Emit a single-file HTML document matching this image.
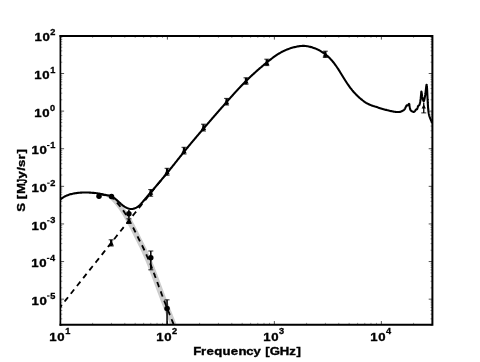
<!DOCTYPE html>
<html><head><meta charset="utf-8"><title>SED</title>
<style>html,body{margin:0;padding:0;background:#fff;}svg{display:block;filter:grayscale(1);}text{font-family:"Liberation Sans",sans-serif;font-weight:bold;fill:#000;stroke:#000;stroke-width:0.4px;}</style></head><body>
<svg width="480" height="362" viewBox="0 0 480 362">
<rect width="480" height="362" fill="#fff"/>
<defs><clipPath id="ax"><rect x="60.4" y="35.9" width="372" height="288.85"/></clipPath></defs>
<g clip-path="url(#ax)" fill="none" stroke-linejoin="round">
<path d="M88.9 193 L89.31 193.03 L89.73 193.06 L90.14 193.09 L90.56 193.13 L90.97 193.17 L91.38 193.22 L91.79 193.27 L92.2 193.32 L92.61 193.37 L93.02 193.43 L93.43 193.49 L93.84 193.55 L94.25 193.61 L94.65 193.68 L95.06 193.74 L95.47 193.81 L95.87 193.88 L96.28 193.96 L96.68 194.05 L97.09 194.13 L97.49 194.23 L97.89 194.33 L98.29 194.43 L98.69 194.54 L99.09 194.64 L99.49 194.75 L99.89 194.87 L100.29 194.98 L100.69 195.1 L101.09 195.21 L101.48 195.32 L101.88 195.44 L102.29 195.55 L102.69 195.67 L103.1 195.78 L103.51 195.9 L103.92 196.02 L104.32 196.14 L104.73 196.26 L105.13 196.39 L105.52 196.53 L105.91 196.67 L106.29 196.81 L106.67 196.97 L107.03 197.13 L107.39 197.29 L107.73 197.47 L108.07 197.66 L108.4 197.86 L108.73 198.08 L109.06 198.31 L109.38 198.56 L109.7 198.81 L110.01 199.08 L110.32 199.35 L110.63 199.64 L110.93 199.93 L111.23 200.23 L111.52 200.53 L111.82 200.84 L112.11 201.16 L112.4 201.47 L112.68 201.8 L112.97 202.12 L113.25 202.44 L113.53 202.77 L113.8 203.09 L114.08 203.41 L114.35 203.74 L114.63 204.05 L114.9 204.37 L115.17 204.68 L115.43 204.99 L115.7 205.3 L115.96 205.62 L116.23 205.93 L116.48 206.25 L116.74 206.58 L117 206.9 L117.25 207.23 L117.5 207.56 L117.75 207.89 L118 208.22 L118.25 208.56 L118.49 208.9 L118.73 209.23 L118.97 209.57 L119.21 209.91 L119.45 210.25 L119.69 210.59 L119.92 210.94 L120.15 211.28 L120.39 211.62 L120.62 211.97 L120.85 212.31 L121.07 212.66 L121.3 213 L121.53 213.35 L121.75 213.69 L121.97 214.04 L122.19 214.39 L122.41 214.74 L122.62 215.1 L122.84 215.45 L123.05 215.8 L123.26 216.16 L123.47 216.52 L123.68 216.88 L123.89 217.23 L124.09 217.59 L124.3 217.95 L124.51 218.31 L124.71 218.67 L124.91 219.03 L125.12 219.4 L125.32 219.76 L125.52 220.12 L125.72 220.48 L125.92 220.84 L126.12 221.2 L126.32 221.56 L126.52 221.93 L126.72 222.29 L126.92 222.65 L127.11 223.02 L127.31 223.38 L127.5 223.74 L127.7 224.11 L127.89 224.48 L128.08 224.84 L128.28 225.21 L128.47 225.57 L128.66 225.94 L128.85 226.31 L129.04 226.68 L129.23 227.04 L129.42 227.41 L129.61 227.78 L129.8 228.15 L129.99 228.52 L130.18 228.88 L130.36 229.25 L130.55 229.62 L130.74 229.99 L130.93 230.36 L131.11 230.73 L131.3 231.1 L131.49 231.46 L131.67 231.83 L131.86 232.2 L132.04 232.58 L132.22 232.95 L132.41 233.32 L132.59 233.69 L132.77 234.06 L132.95 234.43 L133.14 234.8 L133.32 235.17 L133.5 235.55 L133.68 235.92 L133.86 236.29 L134.04 236.66 L134.23 237.03 L134.41 237.4 L134.59 237.77 L134.77 238.14 L134.96 238.52 L135.14 238.89 L135.33 239.26 L135.51 239.62 L135.7 239.99 L135.89 240.36 L136.08 240.73 L136.26 241.1 L136.45 241.47 L136.64 241.84 L136.83 242.2 L137.02 242.57 L137.21 242.94 L137.4 243.31 L137.59 243.67 L137.78 244.04 L137.97 244.41 L138.15 244.78 L138.34 245.15 L138.53 245.52 L138.71 245.89 L138.9 246.26 L139.08 246.63 L139.26 247 L139.44 247.37 L139.62 247.74 L139.8 248.12 L139.97 248.49 L140.15 248.87 L140.33 249.24 L140.5 249.61 L140.68 249.99 L140.85 250.37 L141.02 250.74 L141.19 251.12 L141.37 251.49 L141.54 251.87 L141.71 252.25 L141.88 252.62 L142.05 253 L142.22 253.38 L142.38 253.76 L142.55 254.14 L142.72 254.51 L142.89 254.89 L143.05 255.27 L143.22 255.65 L143.39 256.03 L143.55 256.41 L143.72 256.78 L143.88 257.16 L144.05 257.54 L144.21 257.92 L144.38 258.3 L144.54 258.68 L144.71 259.06 L144.87 259.44 L145.03 259.82 L145.19 260.2 L145.35 260.58 L145.52 260.97 L145.68 261.35 L145.84 261.73 L146 262.11 L146.15 262.49 L146.31 262.87 L146.47 263.26 L146.63 263.64 L146.78 264.02 L146.94 264.4 L147.09 264.79 L147.25 265.17 L147.4 265.55 L147.56 265.94 L147.71 266.32 L147.86 266.71 L148.01 267.09 L148.16 267.48 L148.31 267.86 L148.46 268.25 L148.61 268.63 L148.76 269.02 L148.91 269.41 L149.06 269.79 L149.2 270.18 L149.35 270.57 L149.5 270.95 L149.64 271.34 L149.79 271.73 L149.94 272.11 L150.08 272.5 L150.23 272.89 L150.37 273.28 L150.52 273.66 L150.67 274.05 L150.81 274.44 L150.96 274.82 L151.1 275.21 L151.25 275.6 L151.39 275.98 L151.54 276.37 L151.69 276.76 L151.83 277.15 L151.98 277.53 L152.12 277.92 L152.26 278.31 L152.41 278.7 L152.55 279.08 L152.7 279.47 L152.84 279.86 L152.98 280.25 L153.13 280.64 L153.27 281.02 L153.41 281.41 L153.56 281.8 L153.7 282.19 L153.84 282.58 L153.98 282.96 L154.13 283.35 L154.27 283.74 L154.41 284.13 L154.56 284.52 L154.7 284.91 L154.84 285.29 L154.98 285.68 L155.13 286.07 L155.27 286.46 L155.41 286.85 L155.56 287.23 L155.7 287.62 L155.84 288.01 L155.99 288.4 L156.13 288.78 L156.28 289.17 L156.42 289.56 L156.57 289.95 L156.71 290.33 L156.86 290.72 L157 291.11 L157.15 291.5 L157.29 291.88 L157.44 292.27 L157.58 292.66 L157.73 293.05 L157.87 293.43 L158.01 293.82 L158.16 294.21 L158.3 294.6 L158.45 294.98 L158.6 295.37 L158.74 295.76 L158.89 296.15 L159.03 296.53 L159.18 296.92 L159.32 297.31 L159.47 297.69 L159.62 298.08 L159.76 298.47 L159.91 298.85 L160.06 299.24 L160.2 299.63 L160.35 300.01 L160.5 300.4 L160.65 300.79 L160.79 301.17 L160.94 301.56 L161.09 301.94 L161.24 302.33 L161.39 302.72 L161.54 303.1 L161.69 303.49 L161.84 303.87 L161.99 304.26 L162.14 304.64 L162.29 305.03 L162.45 305.41 L162.6 305.79 L162.75 306.18 L162.9 306.56 L163.06 306.95 L163.21 307.33 L163.36 307.72 L163.52 308.1 L163.67 308.48 L163.83 308.87 L163.98 309.25 L164.14 309.63 L164.29 310.02 L164.45 310.4 L164.6 310.79 L164.75 311.17 L164.91 311.55 L165.06 311.94 L165.22 312.32 L165.37 312.7 L165.53 313.09 L165.68 313.47 L165.84 313.85 L165.99 314.24 L166.15 314.62 L166.3 315 L166.46 315.39 L166.61 315.77 L166.76 316.16 L166.92 316.54 L167.07 316.92 L167.22 317.31 L167.38 317.69 L167.53 318.08 L167.68 318.46 L167.84 318.85 L167.99 319.23 L168.14 319.61 L168.29 320 L168.45 320.38 L168.6 320.77 L168.75 321.15 L168.91 321.54 L169.06 321.92 L169.21 322.3 L169.37 322.69 L169.52 323.07 L169.67 323.46 L169.82 323.84 L169.98 324.23 L170.13 324.61 L170.28 324.99 L170.44 325.38 L170.59 325.76 L170.74 326.15 L170.89 326.53 L171.05 326.92 L171.2 327.3 L177.7 327.3 L177.55 326.92 L177.39 326.53 L177.24 326.15 L177.09 325.76 L176.94 325.38 L176.78 324.99 L176.63 324.61 L176.48 324.23 L176.32 323.84 L176.17 323.46 L176.02 323.07 L175.87 322.69 L175.71 322.3 L175.56 321.92 L175.41 321.54 L175.25 321.15 L175.1 320.77 L174.95 320.38 L174.79 320 L174.64 319.61 L174.49 319.23 L174.34 318.85 L174.18 318.46 L174.03 318.08 L173.88 317.69 L173.72 317.31 L173.57 316.92 L173.42 316.54 L173.26 316.16 L173.11 315.77 L172.96 315.39 L172.8 315 L172.65 314.62 L172.49 314.24 L172.34 313.85 L172.18 313.47 L172.03 313.09 L171.87 312.7 L171.72 312.32 L171.56 311.94 L171.41 311.55 L171.25 311.17 L171.1 310.79 L170.95 310.4 L170.79 310.02 L170.64 309.63 L170.48 309.25 L170.33 308.87 L170.17 308.48 L170.02 308.1 L169.86 307.72 L169.71 307.33 L169.56 306.95 L169.4 306.56 L169.25 306.18 L169.1 305.79 L168.95 305.41 L168.79 305.03 L168.64 304.64 L168.49 304.26 L168.34 303.87 L168.19 303.49 L168.04 303.1 L167.89 302.72 L167.74 302.33 L167.59 301.94 L167.44 301.56 L167.29 301.17 L167.15 300.79 L167 300.4 L166.85 300.01 L166.7 299.63 L166.56 299.24 L166.41 298.85 L166.26 298.47 L166.12 298.08 L165.97 297.69 L165.82 297.31 L165.68 296.92 L165.53 296.53 L165.39 296.15 L165.24 295.76 L165.1 295.37 L164.95 294.98 L164.8 294.6 L164.66 294.21 L164.51 293.82 L164.37 293.43 L164.23 293.05 L164.08 292.66 L163.94 292.27 L163.79 291.88 L163.65 291.5 L163.5 291.11 L163.36 290.72 L163.21 290.33 L163.07 289.95 L162.92 289.56 L162.78 289.17 L162.63 288.78 L162.49 288.4 L162.34 288.01 L162.2 287.62 L162.06 287.23 L161.91 286.85 L161.77 286.46 L161.63 286.07 L161.48 285.68 L161.34 285.29 L161.2 284.91 L161.06 284.52 L160.91 284.13 L160.77 283.74 L160.63 283.35 L160.48 282.96 L160.34 282.58 L160.2 282.19 L160.06 281.8 L159.91 281.41 L159.77 281.02 L159.63 280.64 L159.48 280.25 L159.34 279.86 L159.2 279.47 L159.05 279.08 L158.91 278.7 L158.76 278.31 L158.62 277.92 L158.48 277.53 L158.33 277.15 L158.19 276.76 L158.04 276.37 L157.89 275.98 L157.75 275.6 L157.6 275.21 L157.46 274.82 L157.31 274.44 L157.17 274.05 L157.02 273.66 L156.87 273.28 L156.73 272.89 L156.58 272.5 L156.44 272.11 L156.29 271.73 L156.14 271.34 L156 270.95 L155.85 270.57 L155.7 270.18 L155.56 269.79 L155.41 269.41 L155.26 269.02 L155.11 268.63 L154.96 268.25 L154.81 267.86 L154.66 267.48 L154.51 267.09 L154.36 266.71 L154.21 266.32 L154.06 265.94 L153.9 265.55 L153.75 265.17 L153.59 264.79 L153.44 264.4 L153.28 264.02 L153.13 263.64 L152.97 263.26 L152.81 262.87 L152.65 262.49 L152.5 262.11 L152.34 261.73 L152.18 261.35 L152.02 260.97 L151.85 260.58 L151.69 260.2 L151.53 259.82 L151.37 259.44 L151.21 259.06 L151.04 258.68 L150.88 258.3 L150.71 257.92 L150.55 257.54 L150.38 257.16 L150.22 256.78 L150.05 256.41 L149.89 256.03 L149.72 255.65 L149.55 255.27 L149.39 254.89 L149.22 254.51 L149.05 254.14 L148.88 253.76 L148.72 253.38 L148.55 253 L148.38 252.62 L148.21 252.25 L148.04 251.87 L147.87 251.49 L147.69 251.12 L147.52 250.74 L147.35 250.37 L147.18 249.99 L147 249.61 L146.83 249.24 L146.65 248.87 L146.47 248.49 L146.3 248.12 L146.12 247.74 L145.94 247.37 L145.76 247 L145.58 246.63 L145.4 246.26 L145.21 245.89 L145.03 245.52 L144.84 245.15 L144.65 244.78 L144.47 244.41 L144.28 244.04 L144.09 243.67 L143.9 243.31 L143.71 242.94 L143.52 242.57 L143.33 242.2 L143.14 241.84 L142.95 241.47 L142.76 241.1 L142.58 240.73 L142.39 240.36 L142.2 239.99 L142.01 239.62 L141.83 239.26 L141.64 238.89 L141.46 238.52 L141.27 238.14 L141.09 237.77 L140.91 237.4 L140.73 237.03 L140.54 236.66 L140.36 236.29 L140.18 235.92 L140 235.55 L139.82 235.17 L139.64 234.8 L139.45 234.43 L139.27 234.06 L139.09 233.69 L138.91 233.32 L138.72 232.95 L138.54 232.58 L138.36 232.2 L138.17 231.83 L137.99 231.46 L137.8 231.1 L137.61 230.73 L137.43 230.36 L137.24 229.99 L137.05 229.62 L136.86 229.25 L136.68 228.88 L136.49 228.52 L136.3 228.15 L136.11 227.78 L135.92 227.41 L135.73 227.04 L135.54 226.68 L135.35 226.31 L135.16 225.94 L134.97 225.57 L134.78 225.21 L134.58 224.84 L134.39 224.48 L134.2 224.11 L134 223.74 L133.81 223.38 L133.61 223.02 L133.42 222.65 L133.22 222.29 L133.02 221.93 L132.82 221.56 L132.62 221.2 L132.42 220.84 L132.22 220.48 L132.02 220.12 L131.82 219.76 L131.62 219.4 L131.41 219.03 L131.21 218.67 L131.01 218.31 L130.8 217.95 L130.59 217.59 L130.39 217.23 L130.18 216.88 L129.97 216.52 L129.76 216.16 L129.55 215.8 L129.34 215.45 L129.12 215.1 L128.91 214.74 L128.69 214.39 L128.47 214.04 L128.25 213.69 L128.03 213.35 L127.8 213 L127.57 212.66 L127.35 212.31 L127.12 211.97 L126.89 211.62 L126.65 211.28 L126.42 210.94 L126.19 210.59 L125.95 210.25 L125.71 209.91 L125.47 209.57 L125.23 209.23 L124.99 208.9 L124.75 208.56 L124.5 208.22 L124.25 207.89 L124 207.56 L123.75 207.23 L123.5 206.9 L123.24 206.58 L122.98 206.25 L122.73 205.93 L122.46 205.62 L122.2 205.3 L121.93 204.99 L121.67 204.68 L121.4 204.37 L121.13 204.05 L120.85 203.74 L120.58 203.41 L120.3 203.09 L120.03 202.77 L119.75 202.44 L119.47 202.12 L119.18 201.8 L118.9 201.47 L118.61 201.16 L118.32 200.84 L118.02 200.53 L117.73 200.23 L117.43 199.93 L117.13 199.64 L116.82 199.35 L116.51 199.08 L116.2 198.81 L115.88 198.56 L115.56 198.31 L115.23 198.08 L114.9 197.86 L114.57 197.66 L114.23 197.47 L113.89 197.29 L113.53 197.13 L113.17 196.97 L112.79 196.81 L112.41 196.67 L112.02 196.53 L111.63 196.39 L111.23 196.26 L110.82 196.14 L110.42 196.02 L110.01 195.9 L109.6 195.78 L109.19 195.67 L108.79 195.55 L108.38 195.44 L107.98 195.32 L107.59 195.21 L107.19 195.1 L106.79 194.98 L106.39 194.87 L105.99 194.75 L105.59 194.64 L105.19 194.54 L104.79 194.43 L104.39 194.33 L103.99 194.23 L103.59 194.13 L103.18 194.05 L102.78 193.96 L102.37 193.88 L101.97 193.81 L101.56 193.74 L101.15 193.68 L100.75 193.61 L100.34 193.55 L99.93 193.49 L99.52 193.43 L99.11 193.37 L98.7 193.32 L98.29 193.27 L97.88 193.22 L97.47 193.17 L97.06 193.13 L96.64 193.09 L96.23 193.06 L95.81 193.03 L95.4 193Z" fill="#cdcdcd" stroke="none"/>
<path d="M60 307.3 L61.53 305.38 L63.05 303.46 L64.58 301.54 L66.1 299.62 L67.63 297.71 L69.15 295.79 L70.68 293.87 L72.2 291.95 L73.73 290.03 L75.25 288.11 L76.78 286.19 L78.31 284.27 L79.83 282.35 L81.36 280.43 L82.88 278.52 L84.41 276.6 L85.93 274.68 L87.46 272.76 L88.98 270.84 L90.51 268.92 L92.03 267 L93.56 265.08 L95.08 263.16 L96.61 261.24 L98.14 259.33 L99.66 257.41 L101.19 255.49 L102.71 253.57 L104.24 251.65 L105.76 249.73 L107.29 247.81 L108.81 245.89 L110.34 243.97 L111.86 242.05 L113.39 240.14 L114.92 238.22 L116.44 236.3 L117.97 234.38 L119.49 232.46 L121.02 230.54 L122.54 228.62 L124.07 226.7 L125.59 224.78 L127.12 222.86 L128.64 220.95 L130.17 219.03 L131.69 217.11 L133.22 215.19 L134.75 213.27 L136.27 211.35 L137.8 209.43 L139.32 207.51 L140.85 205.59 L142.37 203.67 L143.9 201.76 L145.42 199.84 L146.95 197.92 L148.47 196 L150 194.08 L154 188.9 L158.75 183.1 L163 177.9 L167.6 172.3" stroke="#000" stroke-width="1.85" stroke-dasharray="5.5 4.45" stroke-dashoffset="2.6"/>
<path d="M92.5 193 L92.91 193.03 L93.33 193.06 L93.74 193.09 L94.16 193.13 L94.57 193.17 L94.98 193.22 L95.39 193.27 L95.8 193.32 L96.21 193.37 L96.62 193.43 L97.03 193.49 L97.44 193.55 L97.85 193.61 L98.25 193.68 L98.66 193.74 L99.07 193.81 L99.47 193.88 L99.88 193.96 L100.28 194.05 L100.69 194.13 L101.09 194.23 L101.49 194.33 L101.89 194.43 L102.29 194.54 L102.69 194.64 L103.09 194.75 L103.49 194.87 L103.89 194.98 L104.29 195.1 L104.69 195.21 L105.08 195.32 L105.48 195.44 L105.89 195.55 L106.29 195.67 L106.7 195.78 L107.11 195.9 L107.52 196.02 L107.92 196.14 L108.33 196.26 L108.73 196.39 L109.12 196.53 L109.51 196.67 L109.89 196.81 L110.27 196.97 L110.63 197.13 L110.99 197.29 L111.33 197.47 L111.67 197.66 L112 197.86 L112.33 198.08 L112.66 198.31 L112.98 198.56 L113.3 198.81 L113.61 199.08 L113.92 199.35 L114.23 199.64 L114.53 199.93 L114.83 200.23 L115.12 200.53 L115.42 200.84 L115.71 201.16 L116 201.47 L116.28 201.8 L116.57 202.12 L116.85 202.44 L117.13 202.77 L117.4 203.09 L117.68 203.41 L117.95 203.74 L118.23 204.05 L118.5 204.37 L118.77 204.68 L119.03 204.99 L119.3 205.3 L119.56 205.62 L119.83 205.93 L120.08 206.25 L120.34 206.58 L120.6 206.9 L120.85 207.23 L121.1 207.56 L121.35 207.89 L121.6 208.22 L121.85 208.56 L122.09 208.9 L122.33 209.23 L122.57 209.57 L122.81 209.91 L123.05 210.25 L123.29 210.59 L123.52 210.94 L123.75 211.28 L123.99 211.62 L124.22 211.97 L124.45 212.31 L124.67 212.66 L124.9 213 L125.13 213.35 L125.35 213.69 L125.57 214.04 L125.79 214.39 L126.01 214.74 L126.22 215.1 L126.44 215.45 L126.65 215.8 L126.86 216.16 L127.07 216.52 L127.28 216.88 L127.49 217.23 L127.69 217.59 L127.9 217.95 L128.11 218.31 L128.31 218.67 L128.51 219.03 L128.72 219.4 L128.92 219.76 L129.12 220.12 L129.32 220.48 L129.52 220.84 L129.72 221.2 L129.92 221.56 L130.12 221.93 L130.32 222.29 L130.52 222.65 L130.71 223.02 L130.91 223.38 L131.1 223.74 L131.3 224.11 L131.49 224.48 L131.68 224.84 L131.88 225.21 L132.07 225.57 L132.26 225.94 L132.45 226.31 L132.64 226.68 L132.83 227.04 L133.02 227.41 L133.21 227.78 L133.4 228.15 L133.59 228.52 L133.78 228.88 L133.96 229.25 L134.15 229.62 L134.34 229.99 L134.53 230.36 L134.71 230.73 L134.9 231.1 L135.09 231.46 L135.27 231.83 L135.46 232.2 L135.64 232.58 L135.82 232.95 L136.01 233.32 L136.19 233.69 L136.37 234.06 L136.55 234.43 L136.74 234.8 L136.92 235.17 L137.1 235.55 L137.28 235.92 L137.46 236.29 L137.64 236.66 L137.83 237.03 L138.01 237.4 L138.19 237.77 L138.37 238.14 L138.56 238.52 L138.74 238.89 L138.93 239.26 L139.11 239.62 L139.3 239.99 L139.49 240.36 L139.68 240.73 L139.86 241.1 L140.05 241.47 L140.24 241.84 L140.43 242.2 L140.62 242.57 L140.81 242.94 L141 243.31 L141.19 243.67 L141.38 244.04 L141.57 244.41 L141.75 244.78 L141.94 245.15 L142.13 245.52 L142.31 245.89 L142.5 246.26 L142.68 246.63 L142.86 247 L143.04 247.37 L143.22 247.74 L143.4 248.12 L143.57 248.49 L143.75 248.87 L143.93 249.24 L144.1 249.61 L144.28 249.99 L144.45 250.37 L144.62 250.74 L144.79 251.12 L144.97 251.49 L145.14 251.87 L145.31 252.25 L145.48 252.62 L145.65 253 L145.82 253.38 L145.98 253.76 L146.15 254.14 L146.32 254.51 L146.49 254.89 L146.65 255.27 L146.82 255.65 L146.99 256.03 L147.15 256.41 L147.32 256.78 L147.48 257.16 L147.65 257.54 L147.81 257.92 L147.98 258.3 L148.14 258.68 L148.31 259.06 L148.47 259.44 L148.63 259.82 L148.79 260.2 L148.95 260.58 L149.12 260.97 L149.28 261.35 L149.44 261.73 L149.6 262.11 L149.75 262.49 L149.91 262.87 L150.07 263.26 L150.23 263.64 L150.38 264.02 L150.54 264.4 L150.69 264.79 L150.85 265.17 L151 265.55 L151.16 265.94 L151.31 266.32 L151.46 266.71 L151.61 267.09 L151.76 267.48 L151.91 267.86 L152.06 268.25 L152.21 268.63 L152.36 269.02 L152.51 269.41 L152.66 269.79 L152.8 270.18 L152.95 270.57 L153.1 270.95 L153.24 271.34 L153.39 271.73 L153.54 272.11 L153.68 272.5 L153.83 272.89 L153.97 273.28 L154.12 273.66 L154.27 274.05 L154.41 274.44 L154.56 274.82 L154.7 275.21 L154.85 275.6 L154.99 275.98 L155.14 276.37 L155.29 276.76 L155.43 277.15 L155.58 277.53 L155.72 277.92 L155.86 278.31 L156.01 278.7 L156.15 279.08 L156.3 279.47 L156.44 279.86 L156.58 280.25 L156.73 280.64 L156.87 281.02 L157.01 281.41 L157.16 281.8 L157.3 282.19 L157.44 282.58 L157.58 282.96 L157.73 283.35 L157.87 283.74 L158.01 284.13 L158.16 284.52 L158.3 284.91 L158.44 285.29 L158.58 285.68 L158.73 286.07 L158.87 286.46 L159.01 286.85 L159.16 287.23 L159.3 287.62 L159.44 288.01 L159.59 288.4 L159.73 288.78 L159.88 289.17 L160.02 289.56 L160.17 289.95 L160.31 290.33 L160.46 290.72 L160.6 291.11 L160.75 291.5 L160.89 291.88 L161.04 292.27 L161.18 292.66 L161.33 293.05 L161.47 293.43 L161.61 293.82 L161.76 294.21 L161.9 294.6 L162.05 294.98 L162.2 295.37 L162.34 295.76 L162.49 296.15 L162.63 296.53 L162.78 296.92 L162.92 297.31 L163.07 297.69 L163.22 298.08 L163.36 298.47 L163.51 298.85 L163.66 299.24 L163.8 299.63 L163.95 300.01 L164.1 300.4 L164.25 300.79 L164.39 301.17 L164.54 301.56 L164.69 301.94 L164.84 302.33 L164.99 302.72 L165.14 303.1 L165.29 303.49 L165.44 303.87 L165.59 304.26 L165.74 304.64 L165.89 305.03 L166.05 305.41 L166.2 305.79 L166.35 306.18 L166.5 306.56 L166.66 306.95 L166.81 307.33 L166.96 307.72 L167.12 308.1 L167.27 308.48 L167.43 308.87 L167.58 309.25 L167.74 309.63 L167.89 310.02 L168.05 310.4 L168.2 310.79 L168.35 311.17 L168.51 311.55 L168.66 311.94 L168.82 312.32 L168.97 312.7 L169.13 313.09 L169.28 313.47 L169.44 313.85 L169.59 314.24 L169.75 314.62 L169.9 315 L170.06 315.39 L170.21 315.77 L170.36 316.16 L170.52 316.54 L170.67 316.92 L170.82 317.31 L170.98 317.69 L171.13 318.08 L171.28 318.46 L171.44 318.85 L171.59 319.23 L171.74 319.61 L171.89 320 L172.05 320.38 L172.2 320.77 L172.35 321.15 L172.51 321.54 L172.66 321.92 L172.81 322.3 L172.97 322.69 L173.12 323.07 L173.27 323.46 L173.42 323.84 L173.58 324.23 L173.73 324.61 L173.88 324.99 L174.04 325.38 L174.19 325.76 L174.34 326.15 L174.49 326.53 L174.65 326.92 L174.8 327.3" stroke="#000" stroke-width="1.85" stroke-dasharray="5.5 4.45" stroke-dashoffset="2.82"/>
<path d="M60 199.6 L60.7 199.06 L61.42 198.54 L62.15 198.04 L62.9 197.56 L63.66 197.11 L64.43 196.68 L65.22 196.27 L66.01 195.88 L66.82 195.53 L67.64 195.19 L68.47 194.89 L69.31 194.61 L70.16 194.35 L71.02 194.11 L71.88 193.9 L72.74 193.7 L73.61 193.53 L74.48 193.37 L75.36 193.22 L76.23 193.1 L77.11 192.98 L77.99 192.88 L78.87 192.79 L79.75 192.72 L80.64 192.65 L81.52 192.6 L82.4 192.56 L83.29 192.53 L84.17 192.51 L85.06 192.5 L85.94 192.5 L86.83 192.51 L87.71 192.53 L88.59 192.57 L89.48 192.61 L90.36 192.66 L91.25 192.71 L92.13 192.77 L93.01 192.84 L93.9 192.91 L94.78 192.99 L95.66 193.08 L96.54 193.18 L97.42 193.29 L98.29 193.42 L99.16 193.57 L100.03 193.74 L100.89 193.91 L101.76 194.1 L102.62 194.29 L103.49 194.48 L104.35 194.67 L105.23 194.85 L106.1 195.02 L106.98 195.19 L107.85 195.38 L108.72 195.58 L109.57 195.81 L110.41 196.08 L111.22 196.39 L112.02 196.75 L112.79 197.17 L113.54 197.62 L114.27 198.12 L114.99 198.65 L115.69 199.2 L116.38 199.77 L117.06 200.37 L117.73 200.97 L118.39 201.57 L119.05 202.18 L119.71 202.78 L120.37 203.37 L121.03 203.95 L121.71 204.52 L122.39 205.07 L123.09 205.61 L123.81 206.13 L124.55 206.62 L125.32 207.09 L126.11 207.53 L126.92 207.93 L127.76 208.28 L128.61 208.57 L129.47 208.79 L130.34 208.94 L131.22 209 L132.1 208.96 L132.97 208.84 L133.84 208.63 L134.7 208.35 L135.53 208 L136.35 207.6 L137.13 207.14 L137.88 206.64 L138.59 206.1 L139.26 205.53 L139.92 204.93 L140.54 204.3 L141.15 203.66 L141.74 202.99 L142.32 202.32 L142.89 201.64 L143.46 200.96 L144.02 200.27 L144.59 199.59 L145.17 198.92 L145.74 198.24 L146.31 197.57 L146.89 196.9 L147.47 196.23 L148.05 195.56 L148.62 194.89 L149.2 194.22 L149.78 193.55 L150.36 192.88 L150.93 192.21 L151.51 191.54 L152.08 190.87 L152.66 190.2 L153.23 189.52 L153.81 188.85 L154.38 188.18 L154.95 187.5 L155.52 186.82 L156.09 186.15 L156.66 185.47 L157.24 184.8 L157.81 184.12 L158.38 183.44 L158.95 182.77 L159.52 182.09 L160.09 181.41 L160.66 180.74 L161.23 180.06 L161.8 179.38 L162.37 178.7 L162.94 178.03 L163.5 177.35 L164.07 176.67 L164.64 175.99 L165.2 175.31 L165.77 174.63 L166.33 173.94 L166.89 173.26 L167.45 172.58 L168.01 171.89 L168.57 171.21 L169.13 170.52 L169.69 169.83 L170.24 169.14 L170.8 168.45 L171.35 167.76 L171.9 167.07 L172.45 166.38 L173 165.69 L173.56 164.99 L174.11 164.3 L174.66 163.61 L175.2 162.91 L175.75 162.22 L176.3 161.53 L176.85 160.83 L177.4 160.14 L177.95 159.44 L178.5 158.75 L179.05 158.06 L179.6 157.36 L180.15 156.67 L180.7 155.98 L181.25 155.28 L181.8 154.59 L182.35 153.9 L182.91 153.21 L183.46 152.52 L184.01 151.83 L184.57 151.14 L185.13 150.45 L185.69 149.77 L186.24 149.08 L186.8 148.4 L187.37 147.71 L187.93 147.03 L188.49 146.34 L189.05 145.66 L189.62 144.98 L190.18 144.3 L190.75 143.62 L191.32 142.94 L191.88 142.26 L192.45 141.58 L193.02 140.9 L193.59 140.23 L194.16 139.55 L194.73 138.87 L195.3 138.2 L195.87 137.52 L196.45 136.85 L197.02 136.17 L197.59 135.5 L198.17 134.83 L198.74 134.15 L199.31 133.48 L199.89 132.81 L200.46 132.13 L201.04 131.46 L201.62 130.79 L202.19 130.12 L202.77 129.45 L203.35 128.78 L203.92 128.11 L204.5 127.44 L205.08 126.77 L205.65 126.09 L206.23 125.42 L206.81 124.75 L207.39 124.08 L207.97 123.42 L208.54 122.75 L209.12 122.08 L209.7 121.41 L210.28 120.74 L210.86 120.07 L211.44 119.4 L212.02 118.73 L212.6 118.06 L213.18 117.4 L213.76 116.73 L214.34 116.06 L214.92 115.39 L215.5 114.73 L216.08 114.06 L216.66 113.39 L217.24 112.73 L217.83 112.06 L218.41 111.39 L218.99 110.73 L219.57 110.06 L220.15 109.39 L220.74 108.73 L221.32 108.06 L221.9 107.4 L222.49 106.73 L223.07 106.07 L223.66 105.4 L224.24 104.73 L224.82 104.07 L225.41 103.41 L225.99 102.74 L226.58 102.08 L227.17 101.41 L227.75 100.75 L228.34 100.08 L228.92 99.42 L229.51 98.76 L230.1 98.1 L230.69 97.43 L231.28 96.77 L231.87 96.11 L232.46 95.45 L233.05 94.79 L233.64 94.13 L234.23 93.48 L234.83 92.82 L235.42 92.16 L236.02 91.51 L236.62 90.86 L237.22 90.21 L237.82 89.56 L238.42 88.91 L239.02 88.26 L239.63 87.62 L240.24 86.97 L240.85 86.33 L241.46 85.69 L242.07 85.05 L242.68 84.41 L243.3 83.78 L243.92 83.15 L244.54 82.52 L245.16 81.89 L245.78 81.26 L246.41 80.64 L247.04 80.02 L247.67 79.4 L248.3 78.79 L248.94 78.17 L249.58 77.56 L250.22 76.95 L250.86 76.35 L251.5 75.74 L252.15 75.14 L252.8 74.54 L253.45 73.94 L254.1 73.35 L254.76 72.75 L255.42 72.16 L256.08 71.57 L256.74 70.99 L257.4 70.4 L258.07 69.82 L258.73 69.24 L259.4 68.66 L260.07 68.08 L260.75 67.5 L261.42 66.93 L262.1 66.35 L262.78 65.78 L263.46 65.21 L264.14 64.65 L264.83 64.08 L265.51 63.52 L266.2 62.95 L266.89 62.39 L267.58 61.83 L268.27 61.27 L268.97 60.72 L269.66 60.17 L270.36 59.62 L271.07 59.07 L271.77 58.53 L272.48 58 L273.2 57.47 L273.92 56.95 L274.64 56.43 L275.36 55.92 L276.09 55.42 L276.83 54.93 L277.57 54.45 L278.32 53.98 L279.07 53.52 L279.83 53.07 L280.6 52.63 L281.37 52.2 L282.15 51.78 L282.93 51.38 L283.73 50.99 L284.53 50.61 L285.33 50.25 L286.15 49.9 L286.97 49.56 L287.79 49.24 L288.62 48.93 L289.46 48.63 L290.3 48.34 L291.14 48.07 L291.99 47.81 L292.85 47.56 L293.71 47.33 L294.57 47.11 L295.43 46.9 L296.3 46.7 L297.17 46.52 L298.04 46.36 L298.92 46.22 L299.8 46.1 L300.68 46 L301.56 45.94 L302.44 45.9 L303.32 45.9 L304.21 45.92 L305.09 45.98 L305.97 46.06 L306.85 46.18 L307.73 46.32 L308.61 46.48 L309.48 46.67 L310.34 46.88 L311.21 47.11 L312.06 47.36 L312.91 47.63 L313.76 47.92 L314.6 48.23 L315.43 48.56 L316.25 48.9 L317.06 49.26 L317.87 49.64 L318.67 50.03 L319.45 50.45 L320.23 50.87 L321 51.32 L321.76 51.78 L322.51 52.26 L323.25 52.75 L323.98 53.26 L324.69 53.78 L325.4 54.32 L326.09 54.87 L326.77 55.44 L327.44 56.02 L328.1 56.62 L328.74 57.23 L329.38 57.85 L330 58.48 L330.61 59.12 L331.21 59.77 L331.8 60.43 L332.38 61.11 L332.94 61.79 L333.5 62.47 L334.05 63.17 L334.58 63.87 L335.11 64.58 L335.63 65.29 L336.14 66.02 L336.64 66.74 L337.14 67.47 L337.63 68.21 L338.12 68.95 L338.6 69.69 L339.07 70.44 L339.55 71.19 L340.02 71.94 L340.48 72.7 L340.95 73.45 L341.41 74.21 L341.88 74.97 L342.34 75.73 L342.8 76.49 L343.26 77.24 L343.73 78 L344.2 78.75 L344.67 79.51 L345.14 80.26 L345.62 81.01 L346.09 81.75 L346.58 82.5 L347.07 83.24 L347.56 83.97 L348.06 84.7 L348.57 85.43 L349.08 86.15 L349.6 86.86 L350.12 87.57 L350.66 88.28 L351.2 88.97 L351.75 89.66 L352.31 90.35 L352.88 91.02 L353.46 91.69 L354.05 92.35 L354.64 93 L355.25 93.65 L355.86 94.29 L356.49 94.92 L357.12 95.54 L357.76 96.15 L358.4 96.76 L359.06 97.36 L359.72 97.96 L360.39 98.54 L361.07 99.12 L361.76 99.68 L362.46 100.24 L363.17 100.78 L363.88 101.3 L364.61 101.81 L365.35 102.3 L366.09 102.78 L366.85 103.23 L367.63 103.65 L368.41 104.06 L369.21 104.43 L370.02 104.79 L370.83 105.12 L371.66 105.44 L372.49 105.74 L373.33 106.03 L374.18 106.3 L375.02 106.58 L375.87 106.84 L376.72 107.11 L377.57 107.37 L378.41 107.63 L379.26 107.9 L380.1 108.16 L380.95 108.42 L381.8 108.67 L382.64 108.92 L383.49 109.17 L384.34 109.42 L385.19 109.65 L386.05 109.88 L386.9 110.11 L387.76 110.32 L388.62 110.53 L389.48 110.73 L390.34 110.92 L391.21 111.11 L392.08 111.28 L392.95 111.44 L393.83 111.59 L394.71 111.72 L395.59 111.84 L396.47 111.93 L397.35 111.98 L398.23 112 L399.12 111.97 L400 111.9 L400.37 111.79 L400.73 111.66 L401.08 111.52 L401.43 111.38 L401.77 111.22 L402.1 111.06 L402.43 110.88 L402.76 110.7 L403.1 110.5 L403.43 110.3 L403.75 110.07 L404.05 109.84 L404.33 109.59 L404.57 109.33 L404.78 109.05 L404.96 108.74 L405.13 108.4 L405.28 108.05 L405.43 107.69 L405.59 107.33 L405.75 106.98 L405.93 106.65 L406.11 106.26 L406.29 105.84 L406.49 105.49 L406.73 105.31 L407.05 105.32 L407.46 105.37 L407.82 105.4 L408.09 105.23 L408.35 104.87 L408.57 104.41 L408.77 103.99 L408.94 103.73 L409.07 103.73 L409.17 103.89 L409.27 104.19 L409.35 104.58 L409.43 105.03 L409.5 105.52 L409.58 106 L409.65 106.45 L409.73 106.83 L409.8 107.21 L409.86 107.6 L409.92 107.99 L409.99 108.37 L410.06 108.75 L410.14 109.11 L410.24 109.44 L410.37 109.75 L410.57 110.06 L410.82 110.36 L411.11 110.63 L411.42 110.89 L411.74 111.1 L412.05 111.29 L412.4 111.47 L412.76 111.64 L413.14 111.78 L413.5 111.87 L413.84 111.9 L414.15 111.79 L414.46 111.55 L414.75 111.25 L415.02 110.94 L415.26 110.65 L415.46 110.31 L415.67 109.97 L415.89 109.69 L416.19 109.51 L416.59 109.38 L416.93 109.25 L417.13 109.03 L417.29 108.7 L417.41 108.31 L417.53 107.91 L417.65 107.54 L417.76 107.16 L417.87 106.77 L417.97 106.4 L418.1 106.06 L418.27 105.78 L418.58 105.57 L418.95 105.39 L419.22 105.17 L419.39 104.87 L419.52 104.52 L419.63 104.14 L419.74 103.75 L419.83 103.38 L419.92 103.02 L420.01 102.65 L420.09 102.28 L420.17 101.91 L420.24 101.54 L420.31 101.17 L420.38 100.8 L420.44 100.43 L420.49 100.06 L420.54 99.68 L420.59 99.31 L420.64 98.94 L420.68 98.56 L420.72 98.19 L420.76 97.81 L420.8 97.44 L420.84 97.06 L420.88 96.69 L420.92 96.31 L420.95 95.94 L420.99 95.56 L421.03 95.17 L421.07 94.72 L421.11 94.23 L421.14 93.73 L421.18 93.24 L421.21 92.78 L421.25 92.37 L421.29 92.02 L421.33 91.77 L421.37 91.62 L421.42 91.61 L421.47 91.7 L421.52 91.88 L421.57 92.13 L421.62 92.45 L421.68 92.83 L421.73 93.25 L421.79 93.71 L421.86 94.19 L421.92 94.68 L421.99 95.17 L422.06 95.66 L422.13 96.13 L422.21 96.56 L422.29 96.96 L422.38 97.34 L422.48 97.77 L422.59 98.23 L422.71 98.7 L422.84 99.18 L422.97 99.64 L423.1 100.06 L423.23 100.44 L423.36 100.76 L423.49 101 L423.6 101.16 L423.71 101.2 L423.82 101.14 L423.92 101 L424.03 100.78 L424.13 100.49 L424.23 100.15 L424.33 99.76 L424.43 99.33 L424.53 98.87 L424.62 98.4 L424.71 97.91 L424.8 97.43 L424.88 96.95 L424.96 96.5 L425.03 96.07 L425.1 95.68 L425.17 95.3 L425.24 94.89 L425.3 94.47 L425.37 94.02 L425.43 93.56 L425.49 93.09 L425.55 92.61 L425.61 92.12 L425.67 91.62 L425.72 91.13 L425.78 90.63 L425.83 90.13 L425.89 89.65 L425.94 89.17 L425.99 88.7 L426.04 88.24 L426.09 87.8 L426.14 87.38 L426.18 86.98 L426.23 86.6 L426.27 86.25 L426.31 85.93 L426.36 85.64 L426.4 85.38 L426.44 85.16 L426.48 84.98 L426.51 84.84 L426.55 84.75 L426.59 84.7 L426.62 84.71 L426.65 84.75 L426.69 84.82 L426.72 84.93 L426.75 85.07 L426.78 85.25 L426.81 85.45 L426.84 85.68 L426.86 85.94 L426.89 86.23 L426.92 86.54 L426.95 86.87 L426.97 87.22 L427 87.59 L427.02 87.98 L427.05 88.39 L427.07 88.82 L427.09 89.26 L427.12 89.71 L427.14 90.17 L427.16 90.64 L427.19 91.12 L427.21 91.61 L427.23 92.1 L427.25 92.6 L427.28 93.1 L427.3 93.6 L427.32 94.1 L427.34 94.6 L427.37 95.09 L427.39 95.58 L427.41 96.07 L427.43 96.55 L427.46 97.02 L427.48 97.48 L427.5 97.92 L427.53 98.36 L427.55 98.78 L427.57 99.18 L427.6 99.57 L427.62 99.94 L427.65 100.32 L427.67 100.7 L427.69 101.07 L427.71 101.45 L427.73 101.83 L427.75 102.2 L427.78 102.58 L427.8 102.96 L427.82 103.33 L427.84 103.71 L427.86 104.09 L427.88 104.46 L427.9 104.84 L427.92 105.21 L427.94 105.59 L427.97 105.97 L427.99 106.34 L428.02 106.72 L428.04 107.09 L428.07 107.47 L428.1 107.84 L428.13 108.22 L428.16 108.59 L428.19 108.97 L428.23 109.34 L428.26 109.71 L428.3 110.09 L428.34 110.46 L428.39 110.84 L428.44 111.21 L428.49 111.59 L428.54 111.96 L428.6 112.34 L428.66 112.71 L428.73 113.08 L428.79 113.45 L428.86 113.82 L428.94 114.19 L429.01 114.56 L429.09 114.93 L429.17 115.29 L429.26 115.65 L429.36 116.01 L429.47 116.37 L429.59 116.73 L429.72 117.09 L429.86 117.44 L429.99 117.79 L430.13 118.15 L430.28 118.5 L430.42 118.84 L430.56 119.19 L430.7 119.54 L430.85 119.9 L431 120.25 L431.15 120.6 L431.31 120.94 L431.48 121.28 L431.65 121.61 L431.84 121.93 L432.03 122.25 L432.25 122.55 L432.48 122.84 L432.74 123.12 L433 123.4" stroke="#000" stroke-width="2.1"/>
<path d="M99 194 V198.5 M111.5 194.4 V198.8 M128.9 209.8 V218 M150.8 251 V269.8 M167.05 299.85 V330" stroke="#000" stroke-width="1.5"/>
<path d="M111.2 239.8 V246 M128.9 218.8 V223.4 M150.7 189.6 V196.2 M167.1 168.3 V175.2 M184 147.3 V154 M203.5 124.2 V131 M226.6 98.4 V105 M246 77.8 V84.2 M266.8 59.2 V65.6 M325.3 51.2 V57.4" stroke="#000" stroke-width="2.3"/>
<path d="M423.75 102.6 V112.9" stroke="#000" stroke-width="1.3"/>
<path d="M148.3 251 H153.3 M148.3 269.8 H153.3 M164.55 299.85 H169.55 M164.55 330 H169.55 M108.7 239.8 H113.7 M108.7 246 H113.7 M126.4 218.8 H131.4 M126.4 223.4 H131.4 M148.2 189.6 H153.2 M148.2 196.2 H153.2 M164.6 168.3 H169.6 M164.6 175.2 H169.6 M181.5 147.3 H186.5 M181.5 154 H186.5 M201 124.2 H206 M201 131 H206 M224.1 98.4 H229.1 M224.1 105 H229.1 M243.5 77.8 H248.5 M243.5 84.2 H248.5 M264.3 59.2 H269.3 M264.3 65.6 H269.3 M322.8 51.2 H327.8 M322.8 57.4 H327.8 M421.25 112.9 H426.25" stroke="#000" stroke-width="0.85"/>
<circle cx="99" cy="196.25" r="2.75" fill="#000" stroke="none"/>
<circle cx="111.5" cy="196.6" r="2.75" fill="#000" stroke="none"/>
<circle cx="128.9" cy="213.8" r="2.75" fill="#000" stroke="none"/>
<circle cx="150.8" cy="257.7" r="2.75" fill="#000" stroke="none"/>
<circle cx="167.05" cy="308.5" r="2.75" fill="#000" stroke="none"/>
<path d="M111.2 240.45 L113.75 245.55 L108.65 245.55 Z" fill="#000" stroke="none"/>
<path d="M128.9 218.45 L131.45 223.55 L126.35 223.55 Z" fill="#000" stroke="none"/>
<path d="M150.7 189.75 L153.25 194.85 L148.15 194.85 Z" fill="#000" stroke="none"/>
<path d="M167.1 169.05 L169.65 174.15 L164.55 174.15 Z" fill="#000" stroke="none"/>
<path d="M184 148.05 L186.55 153.15 L181.45 153.15 Z" fill="#000" stroke="none"/>
<path d="M203.5 124.95 L206.05 130.05 L200.95 130.05 Z" fill="#000" stroke="none"/>
<path d="M226.6 99.05 L229.15 104.15 L224.05 104.15 Z" fill="#000" stroke="none"/>
<path d="M246 78.45 L248.55 83.55 L243.45 83.55 Z" fill="#000" stroke="none"/>
<path d="M266.8 59.85 L269.35 64.95 L264.25 64.95 Z" fill="#000" stroke="none"/>
<path d="M325.3 51.65 L327.85 56.75 L322.75 56.75 Z" fill="#000" stroke="none"/>
<path d="M423.75 104.3 L425.85 108.5 L421.65 108.5 Z" fill="#000" stroke="none"/>
</g>
<path d="M60.4 324.75 v-3.7 M60.4 35.9 v3.7 M167.39 324.75 v-3.7 M167.39 35.9 v3.7 M274.37 324.75 v-3.7 M274.37 35.9 v3.7 M381.36 324.75 v-3.7 M381.36 35.9 v3.7 M60.4 299.17 h3.7 M432.4 299.17 h-3.7 M60.4 261.56 h3.7 M432.4 261.56 h-3.7 M60.4 223.95 h3.7 M432.4 223.95 h-3.7 M60.4 186.34 h3.7 M432.4 186.34 h-3.7 M60.4 148.73 h3.7 M432.4 148.73 h-3.7 M60.4 111.12 h3.7 M432.4 111.12 h-3.7 M60.4 73.51 h3.7 M432.4 73.51 h-3.7 M60.4 35.9 h3.7 M432.4 35.9 h-3.7" stroke="#000" stroke-width="0.8" stroke-opacity="0.85" fill="none"/>
<path d="M92.61 324.75 v-1.9 M92.61 35.9 v1.9 M111.44 324.75 v-1.9 M111.44 35.9 v1.9 M124.81 324.75 v-1.9 M124.81 35.9 v1.9 M135.18 324.75 v-1.9 M135.18 35.9 v1.9 M143.65 324.75 v-1.9 M143.65 35.9 v1.9 M150.81 324.75 v-1.9 M150.81 35.9 v1.9 M157.02 324.75 v-1.9 M157.02 35.9 v1.9 M162.49 324.75 v-1.9 M162.49 35.9 v1.9 M199.59 324.75 v-1.9 M199.59 35.9 v1.9 M218.43 324.75 v-1.9 M218.43 35.9 v1.9 M231.8 324.75 v-1.9 M231.8 35.9 v1.9 M242.16 324.75 v-1.9 M242.16 35.9 v1.9 M250.64 324.75 v-1.9 M250.64 35.9 v1.9 M257.8 324.75 v-1.9 M257.8 35.9 v1.9 M264 324.75 v-1.9 M264 35.9 v1.9 M269.47 324.75 v-1.9 M269.47 35.9 v1.9 M306.58 324.75 v-1.9 M306.58 35.9 v1.9 M325.41 324.75 v-1.9 M325.41 35.9 v1.9 M338.78 324.75 v-1.9 M338.78 35.9 v1.9 M349.15 324.75 v-1.9 M349.15 35.9 v1.9 M357.62 324.75 v-1.9 M357.62 35.9 v1.9 M364.78 324.75 v-1.9 M364.78 35.9 v1.9 M370.99 324.75 v-1.9 M370.99 35.9 v1.9 M376.46 324.75 v-1.9 M376.46 35.9 v1.9 M413.56 324.75 v-1.9 M413.56 35.9 v1.9 M432.4 324.75 v-1.9 M432.4 35.9 v1.9 M60.4 325.46 h1.9 M432.4 325.46 h-1.9 M60.4 318.84 h1.9 M432.4 318.84 h-1.9 M60.4 314.14 h1.9 M432.4 314.14 h-1.9 M60.4 310.49 h1.9 M432.4 310.49 h-1.9 M60.4 307.51 h1.9 M432.4 307.51 h-1.9 M60.4 305 h1.9 M432.4 305 h-1.9 M60.4 302.81 h1.9 M432.4 302.81 h-1.9 M60.4 300.89 h1.9 M432.4 300.89 h-1.9 M60.4 287.85 h1.9 M432.4 287.85 h-1.9 M60.4 281.23 h1.9 M432.4 281.23 h-1.9 M60.4 276.53 h1.9 M432.4 276.53 h-1.9 M60.4 272.88 h1.9 M432.4 272.88 h-1.9 M60.4 269.9 h1.9 M432.4 269.9 h-1.9 M60.4 267.39 h1.9 M432.4 267.39 h-1.9 M60.4 265.2 h1.9 M432.4 265.2 h-1.9 M60.4 263.28 h1.9 M432.4 263.28 h-1.9 M60.4 250.24 h1.9 M432.4 250.24 h-1.9 M60.4 243.62 h1.9 M432.4 243.62 h-1.9 M60.4 238.92 h1.9 M432.4 238.92 h-1.9 M60.4 235.27 h1.9 M432.4 235.27 h-1.9 M60.4 232.29 h1.9 M432.4 232.29 h-1.9 M60.4 229.78 h1.9 M432.4 229.78 h-1.9 M60.4 227.59 h1.9 M432.4 227.59 h-1.9 M60.4 225.67 h1.9 M432.4 225.67 h-1.9 M60.4 212.63 h1.9 M432.4 212.63 h-1.9 M60.4 206.01 h1.9 M432.4 206.01 h-1.9 M60.4 201.31 h1.9 M432.4 201.31 h-1.9 M60.4 197.66 h1.9 M432.4 197.66 h-1.9 M60.4 194.68 h1.9 M432.4 194.68 h-1.9 M60.4 192.17 h1.9 M432.4 192.17 h-1.9 M60.4 189.98 h1.9 M432.4 189.98 h-1.9 M60.4 188.06 h1.9 M432.4 188.06 h-1.9 M60.4 175.02 h1.9 M432.4 175.02 h-1.9 M60.4 168.4 h1.9 M432.4 168.4 h-1.9 M60.4 163.7 h1.9 M432.4 163.7 h-1.9 M60.4 160.05 h1.9 M432.4 160.05 h-1.9 M60.4 157.07 h1.9 M432.4 157.07 h-1.9 M60.4 154.56 h1.9 M432.4 154.56 h-1.9 M60.4 152.37 h1.9 M432.4 152.37 h-1.9 M60.4 150.45 h1.9 M432.4 150.45 h-1.9 M60.4 137.41 h1.9 M432.4 137.41 h-1.9 M60.4 130.79 h1.9 M432.4 130.79 h-1.9 M60.4 126.09 h1.9 M432.4 126.09 h-1.9 M60.4 122.44 h1.9 M432.4 122.44 h-1.9 M60.4 119.46 h1.9 M432.4 119.46 h-1.9 M60.4 116.95 h1.9 M432.4 116.95 h-1.9 M60.4 114.76 h1.9 M432.4 114.76 h-1.9 M60.4 112.84 h1.9 M432.4 112.84 h-1.9 M60.4 99.8 h1.9 M432.4 99.8 h-1.9 M60.4 93.18 h1.9 M432.4 93.18 h-1.9 M60.4 88.48 h1.9 M432.4 88.48 h-1.9 M60.4 84.83 h1.9 M432.4 84.83 h-1.9 M60.4 81.85 h1.9 M432.4 81.85 h-1.9 M60.4 79.34 h1.9 M432.4 79.34 h-1.9 M60.4 77.15 h1.9 M432.4 77.15 h-1.9 M60.4 75.23 h1.9 M432.4 75.23 h-1.9 M60.4 62.19 h1.9 M432.4 62.19 h-1.9 M60.4 55.57 h1.9 M432.4 55.57 h-1.9 M60.4 50.87 h1.9 M432.4 50.87 h-1.9 M60.4 47.22 h1.9 M432.4 47.22 h-1.9 M60.4 44.24 h1.9 M432.4 44.24 h-1.9 M60.4 41.73 h1.9 M432.4 41.73 h-1.9 M60.4 39.54 h1.9 M432.4 39.54 h-1.9 M60.4 37.62 h1.9 M432.4 37.62 h-1.9" stroke="#000" stroke-width="0.7" stroke-opacity="0.6" fill="none"/>
<path d="M60.4 34.9 V325.75" stroke="#000" stroke-width="1.7" fill="none"/>
<path d="M432.4 34.9 V325.75 M59.55 35.9 H433.4 M59.55 324.75 H433.4" stroke="#000" stroke-width="2" fill="none"/>
<text transform="translate(31.07 304.72) scale(1.08 0.865)" font-size="12.19" x="0.34 7.73">10</text>
<rect x="47.06" y="295.43" width="2.47" height="1.14" fill="#000"/>
<text transform="translate(49.96 298.62) scale(1.08 1.03)" font-size="8.53" x="0.24" style="stroke-width:0.3px">5</text>
<text transform="translate(30.87 267.11) scale(1.08 0.865)" font-size="12.19" x="0.34 7.73">10</text>
<rect x="46.86" y="257.82" width="2.47" height="1.14" fill="#000"/>
<text transform="translate(49.77 261.01) scale(1.08 1.03)" font-size="8.53" x="0.18" style="stroke-width:0.3px">4</text>
<text transform="translate(31.15 229.5) scale(1.08 0.865)" font-size="12.19" x="0.34 7.73">10</text>
<rect x="47.13" y="220.21" width="2.47" height="1.14" fill="#000"/>
<text transform="translate(50.04 223.4) scale(1.08 1.03)" font-size="8.53" x="0.23" style="stroke-width:0.3px">3</text>
<text transform="translate(31.2 191.89) scale(1.08 0.865)" font-size="12.19" x="0.34 7.73">10</text>
<rect x="47.19" y="182.6" width="2.47" height="1.14" fill="#000"/>
<text transform="translate(50.1 185.79) scale(1.08 1.03)" font-size="8.53" x="0.22" style="stroke-width:0.3px">2</text>
<text transform="translate(31.06 154.28) scale(1.08 0.865)" font-size="12.19" x="0.34 7.73">10</text>
<rect x="47.05" y="144.99" width="2.47" height="1.14" fill="#000"/>
<text transform="translate(49.95 148.18) scale(1.08 1.03)" font-size="8.53" x="0.24" style="stroke-width:0.3px">1</text>
<text transform="translate(33.78 116.67) scale(1.08 0.865)" font-size="12.19" x="0.34 7.73">10</text>
<text transform="translate(49.78 110.57) scale(1.08 1.03)" font-size="8.53" x="0.23" style="stroke-width:0.3px">0</text>
<text transform="translate(33.95 79.06) scale(1.08 0.865)" font-size="12.19" x="0.34 7.73">10</text>
<text transform="translate(49.95 72.96) scale(1.08 1.03)" font-size="8.53" x="0.24" style="stroke-width:0.3px">1</text>
<text transform="translate(34.1 41.45) scale(1.08 0.865)" font-size="12.19" x="0.34 7.73">10</text>
<text transform="translate(50.1 35.35) scale(1.08 1.03)" font-size="8.53" x="0.22" style="stroke-width:0.3px">2</text>
<text transform="translate(48.9 340.9) scale(1.08 0.865)" font-size="12.19" x="0.34 7.73">10</text>
<text transform="translate(64.9 334.15) scale(1.08 1.03)" font-size="8.53" x="0.24" style="stroke-width:0.3px">1</text>
<text transform="translate(155.88 340.9) scale(1.08 0.865)" font-size="12.19" x="0.34 7.73">10</text>
<text transform="translate(171.89 334.15) scale(1.08 1.03)" font-size="8.53" x="0.22" style="stroke-width:0.3px">2</text>
<text transform="translate(262.87 340.9) scale(1.08 0.865)" font-size="12.19" x="0.34 7.73">10</text>
<text transform="translate(278.87 334.15) scale(1.08 1.03)" font-size="8.53" x="0.23" style="stroke-width:0.3px">3</text>
<text transform="translate(369.85 340.9) scale(1.08 0.865)" font-size="12.19" x="0.34 7.73">10</text>
<text transform="translate(385.86 334.15) scale(1.08 1.03)" font-size="8.53" x="0.18" style="stroke-width:0.3px">4</text>
<text transform="translate(193.6 355.35) scale(1.08 0.865)" font-size="12.19" x="-0.23 6.97 12.01 19.1 26.75 34.43 41.57 48.65 55.42 62.32 66.26 70.53 79.7 88.56 95.32">Frequency [GHz]</text>
<text transform="translate(24.7 211.7) rotate(-90) scale(1.08 0.865)" font-size="12.19" x="-0.17 7.67 11.61 16.46">S [M</text>
<text transform="translate(24.7 211.7) rotate(-90) translate(28.22 1.97) scale(0.67 1.15)" font-size="12.19">J</text>
<text transform="translate(24.7 211.7) rotate(-90) scale(1.08 0.865)" font-size="12.19" x="30.84 37.99 41.47 48.35 53.8">y/sr]</text>
</svg></body></html>
